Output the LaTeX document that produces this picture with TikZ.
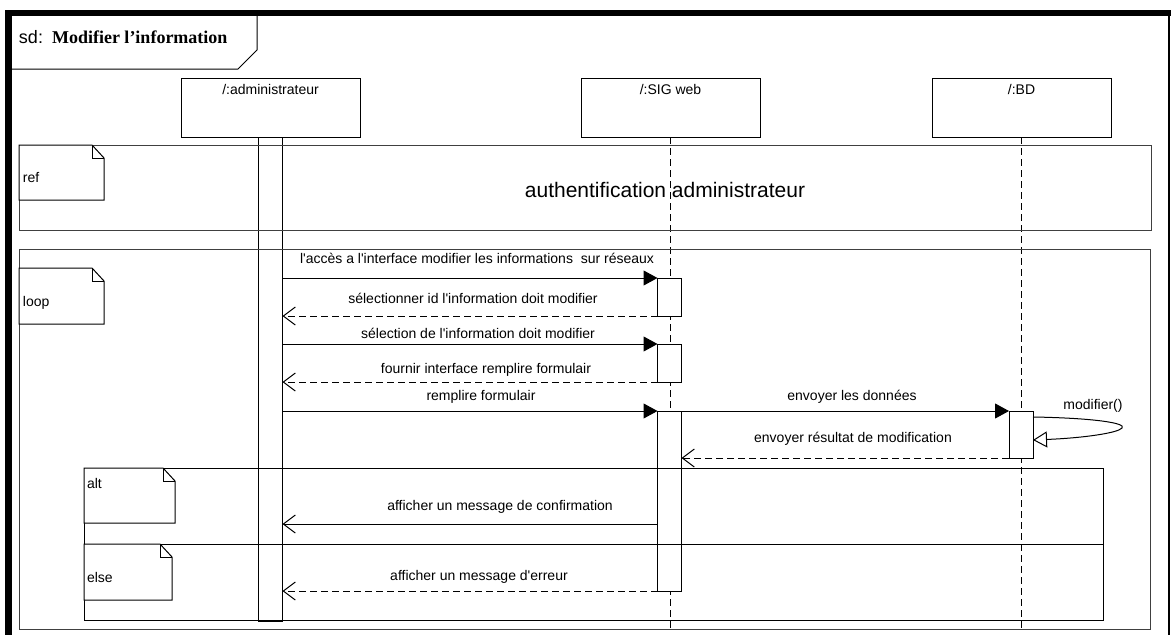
\documentclass[tikz,border=0pt]{standalone}
\usepackage{fontspec}
\setmainfont{Liberation Sans}
\newfontfamily\umlfont{Liberation Sans}
\newfontfamily\titleserif{Liberation Serif}
\usetikzlibrary{arrows.meta,calc}

\tikzset{
  pics/tagnote/.style args={#1/#2}{code={
    \draw[line width=1pt, fill=white] (0,0) -- (#1-12,0) -- (#1,13) -- (#1,#2) -- (0,#2) -- cycle;
    \draw[line width=0.8pt] (#1-12,0) -- (#1-12,13) -- (#1,13);
  }}
}

\begin{document}
\begin{tikzpicture}[x=1pt,y=-1pt,
  every node/.style={inner sep=0pt, outer sep=0pt},
  msgfont/.style={font=\umlfont\fontsize{14}{16}\selectfont},
  objbox/.style={draw, line width=1pt, fill=white, minimum width=179pt, minimum height=59pt, anchor=north west},
  actbar/.style={draw, line width=1pt, fill=white, minimum width=24pt, anchor=north west},
  lifeline/.style={line width=1pt, dash pattern=on 7pt off 4pt},
  framebox/.style={draw=black!75, line width=1pt, anchor=north west},
  syncmsg/.style={line width=1pt, -{Triangle[length=14pt,width=15pt]}},
  replymsg/.style={line width=1pt, dash pattern=on 7pt off 4pt, -{Straight Barb[length=12pt,width=18pt]}},
  plainmsg/.style={line width=1pt, -{Straight Barb[length=12pt,width=18pt]}},
  selfmsg/.style={line width=1pt, -{Triangle[open, fill=white, length=14pt, width=16pt]}},
]
\useasboundingbox (0,0) rectangle (1171,635);
\fill[white] (0,0) rectangle (1171,635);

% outer sd frame
\draw[line width=6.5pt] (8.5,640) -- (8.5,13) -- (1175,13);
\draw[line width=1.2pt] (1169,13) -- (1169,640);
\draw[line width=1pt] (8.5,69) -- (238,69) -- (257,50) -- (257,13);
\node[anchor=base west] (sdtitle) at (19,43)
  {{\umlfont\fontsize{18}{20}\selectfont sd:}\hspace{9pt}{\titleserif\bfseries\fontsize{18}{20}\selectfont Modifier l’information}};

% participants
\node[objbox] (admin) at (181,78) {};
\node[objbox] (sig) at (581,78) {};
\node[objbox] (bd) at (932,78) {};
\node[msgfont, anchor=base] (adminname) at ($(admin.north)+(0,16)$) {/:administrateur};
\node[msgfont, anchor=base] (signame) at ($(sig.north)+(0,16)$) {/:SIG web};
\node[msgfont, anchor=base] (bdname) at ($(bd.north)+(0,16)$) {/:BD};

% lifelines down to the bottom of the loop fragment
\coordinate (lifeend) at (0,629);
\draw[lifeline] (sig.south) -- (sig.south |- lifeend);
\draw[lifeline] (bd.south) -- (bd.south |- lifeend);

% activation bars
\node[actbar, minimum height=484pt] (adminbar) at (258.5,137) {};
\node[actbar, minimum height=38pt] (sig1) at (657.5,278) {};
\node[actbar, minimum height=38pt] (sig2) at (657.5,344) {};
\node[actbar, minimum height=180pt] (sig3) at (657.5,411) {};
\node[actbar, minimum height=47pt] (bd1) at (1009,411) {};

% combined fragments, drawn over the bars
\node[framebox, minimum width=1132pt, minimum height=85pt] (reffr) at (19,145) {};
\node[framebox, minimum width=1131pt, minimum height=380pt] (loopfr) at (19,249) {};
\node[draw, line width=1pt, anchor=north west, minimum width=1019pt, minimum height=152pt] (altfr) at (84,468) {};
\draw[line width=1pt] (altfr.west |- 0,544) -- (altfr.east |- 0,544);

% operator tags
\pic (reftag) at (19,145) {tagnote=85/55};
\pic (looptag) at (19,268) {tagnote=85/56};
\pic (alttag) at (84,468) {tagnote=91/55};
\pic (elsetag) at (84,544) {tagnote=88/56};
\node[msgfont, anchor=base west] (reflbl) at (23,182) {ref};
\node[msgfont, anchor=base west] (looplbl) at (23,306) {loop};
\node[msgfont, anchor=base west] (altlbl) at (87,488) {alt};
\node[msgfont, anchor=base west] (elselbl) at (87,582) {else};
\node[anchor=base, font=\umlfont\fontsize{21}{24}\selectfont] (reftext) at (665,197.5) {authentification administrateur};

% messages
\draw[syncmsg] (adminbar.east |- sig1.north) -- (sig1.north west);
\node[msgfont, anchor=base] (m1) at (477,263) {l'accès a l'interface modifier les informations\ \ sur réseaux};
\draw[replymsg] (sig1.south west) -- (adminbar.east |- sig1.south);
\node[msgfont, anchor=base] (m2) at (473,303) {sélectionner id l'information doit modifier};
\draw[syncmsg] (adminbar.east |- sig2.north) -- (sig2.north west);
\node[msgfont, anchor=base] (m3) at (478,338) {sélection de l'information doit modifier};
\draw[replymsg] (sig2.south west) -- (adminbar.east |- sig2.south);
\node[msgfont, anchor=base] (m4) at (486,373) {fournir interface remplire formulair};
\draw[syncmsg] (adminbar.east |- sig3.north) -- (sig3.north west);
\node[msgfont, anchor=base] (m5) at (481,400) {remplire formulair};
\draw[syncmsg] (sig3.north east) -- (bd1.north west);
\node[msgfont, anchor=base] (m6) at (852,400) {envoyer les données};

\coordinate (selfout) at ($(bd1.north east)+(0,6)$);
\coordinate (selftip) at ($(bd1.north east)+(89,17)$);
\coordinate (selfin) at ($(bd1.north east)+(0,29)$);
\draw[selfmsg] (selfout) .. controls +(60,1) and +(5,-5) .. (selftip)
  .. controls +(-4,5) and +(50,-2) .. (selfin);
\node[msgfont, anchor=base] (m7) at (1093,409) {modifier()};

\draw[replymsg] (bd1.south west) -- (sig3.east |- bd1.south);
\node[msgfont, anchor=base] (m8) at (853,442) {envoyer résultat de modification};

\coordinate (confirmy) at ($(sig3.north west)+(0,113)$);
\draw[plainmsg] (confirmy) -- (adminbar.east |- confirmy);
\node[msgfont, anchor=base] (m9) at (500,510) {afficher un message de confirmation};
\draw[replymsg] (sig3.south west) -- (adminbar.east |- sig3.south);
\node[msgfont, anchor=base] (m10) at (479,580) {afficher un message d'erreur};
\end{tikzpicture}
\end{document}
